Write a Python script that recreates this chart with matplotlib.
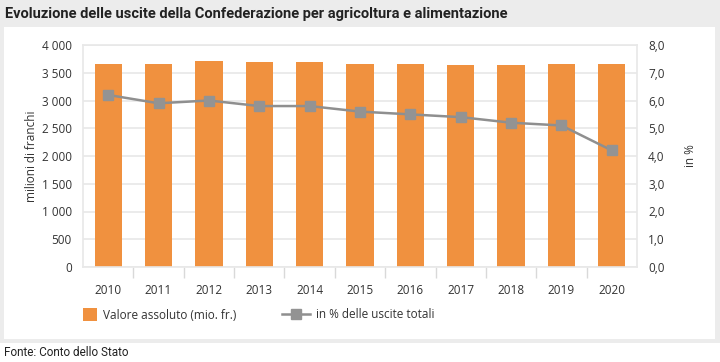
import matplotlib
matplotlib.use("Agg")
import matplotlib.pyplot as plt
from matplotlib.patches import Rectangle
from matplotlib.lines import Line2D
import numpy as np

years = ["2010", "2011", "2012", "2013", "2014", "2015", "2016", "2017", "2018", "2019", "2020"]
valore_assoluto = [3660, 3655, 3710, 3700, 3690, 3660, 3650, 3645, 3635, 3650, 3660]
quota_percento = [6.2, 5.9, 6.0, 5.8, 5.8, 5.6, 5.5, 5.4, 5.2, 5.1, 4.2]

orange = "#f0913f"
grey_line = "#8f8f8f"
grid_col = "#e8e8e8"
text_col = "#333333"

plt.rcParams['font.family'] = ['Open Sans', 'DejaVu Sans']

fig = plt.figure(figsize=(7.2, 3.62), dpi=100)
fig.patch.set_facecolor("white")

# grey frame with white panel
W, H = 720, 362
fig.patches.append(Rectangle((0, 1 - 343 / H), 1, 343 / H, transform=fig.transFigure,
                             facecolor="#ececec", edgecolor="none", zorder=-10))
fig.patches.append(Rectangle((4 / W, 1 - 339 / H), 711 / W, 312 / H, transform=fig.transFigure,
                             facecolor="white", edgecolor="none", zorder=-9))

fig.text(5 / W, 1 - 14 / H, "Evoluzione delle uscite della Confederazione per agricoltura e alimentazione",
         fontsize=10.5, fontweight="bold", family=["Roboto", "DejaVu Sans"],
         color="#222222", va="center", ha="left")
fig.text(4 / W, 1 - 353 / H, "Fonte: Conto dello Stato", fontsize=8.5,
         family=["Roboto", "DejaVu Sans"], color="#222222", va="center", ha="left")

ax = fig.add_axes([83 / W, 1 - 267 / H, 554 / W, 222 / H])
x = np.arange(len(years))
ax.bar(x, valore_assoluto, width=0.54, color=orange, zorder=2)
ax.set_xlim(-0.5, len(years) - 0.5)
ax.set_ylim(0, 4000)
ax.set_yticks(np.arange(0, 4001, 500))
ax.set_yticklabels([f"{v:,}".replace(",", " ") for v in range(0, 4001, 500)])
ax.set_xticks(x)
ax.set_xticklabels(years)
ax.set_xticks(np.arange(0.5, len(years) - 0.5, 1), minor=True)
ax.tick_params(axis="x", which="major", length=0, pad=12, labelsize=8.5, labelcolor=text_col)
ax.tick_params(axis="x", which="minor", length=8, color="#d9d9d9", width=1)
ax.tick_params(axis="y", length=0, pad=8, labelsize=8.5, labelcolor=text_col)
ax.grid(axis="y", color=grid_col, linewidth=1.2, zorder=0)
for s in ax.spines.values():
    s.set_color(grid_col)
    s.set_linewidth(1.2)
ax.set_ylabel("milioni di franchi", fontsize=8.5, color=text_col, labelpad=3)

ax2 = ax.twinx()
ax2.plot(x, quota_percento, color=grey_line, linewidth=1.8, marker="s", markersize=7.5,
         markerfacecolor="#939393", markeredgecolor="#939393", zorder=3)
ax2.set_ylim(0, 8)
ax2.set_yticks(np.arange(0, 8.1, 1))
ax2.set_yticklabels([f"{v:.1f}".replace(".", ",") for v in np.arange(0, 8.1, 1)])
ax2.tick_params(axis="y", length=0, pad=8, labelsize=8.5, labelcolor=text_col)
for s in ax2.spines.values():
    s.set_visible(False)
ax2.set_ylabel("in %", fontsize=8.5, color=text_col, labelpad=14)

# two separate legends so the square and the line handle get their own sizes
leg1 = fig.legend([Rectangle((0, 0), 1, 1, facecolor=orange, edgecolor="none")],
                  ["Valore assoluto (mio. fr.)"], loc="center left",
                  bbox_to_anchor=(79 / W, 1 - 315 / H), frameon=False, fontsize=8.5,
                  handlelength=1.2, handleheight=1.2, handletextpad=0.5, labelcolor=text_col,
                  borderaxespad=0, borderpad=0.3)
leg2 = fig.legend([Line2D([0], [0], color=grey_line, linewidth=1.8, marker="s", markersize=7,
                          markerfacecolor="#939393", markeredgecolor="#939393")],
                  ["in % delle uscite totali"], loc="center left",
                  bbox_to_anchor=(278 / W, 1 - 315 / H), frameon=False, fontsize=8.5,
                  handlelength=2.4, handletextpad=0.5, labelcolor=text_col,
                  borderaxespad=0, borderpad=0.3)

fig.savefig("out.png", dpi=100)
